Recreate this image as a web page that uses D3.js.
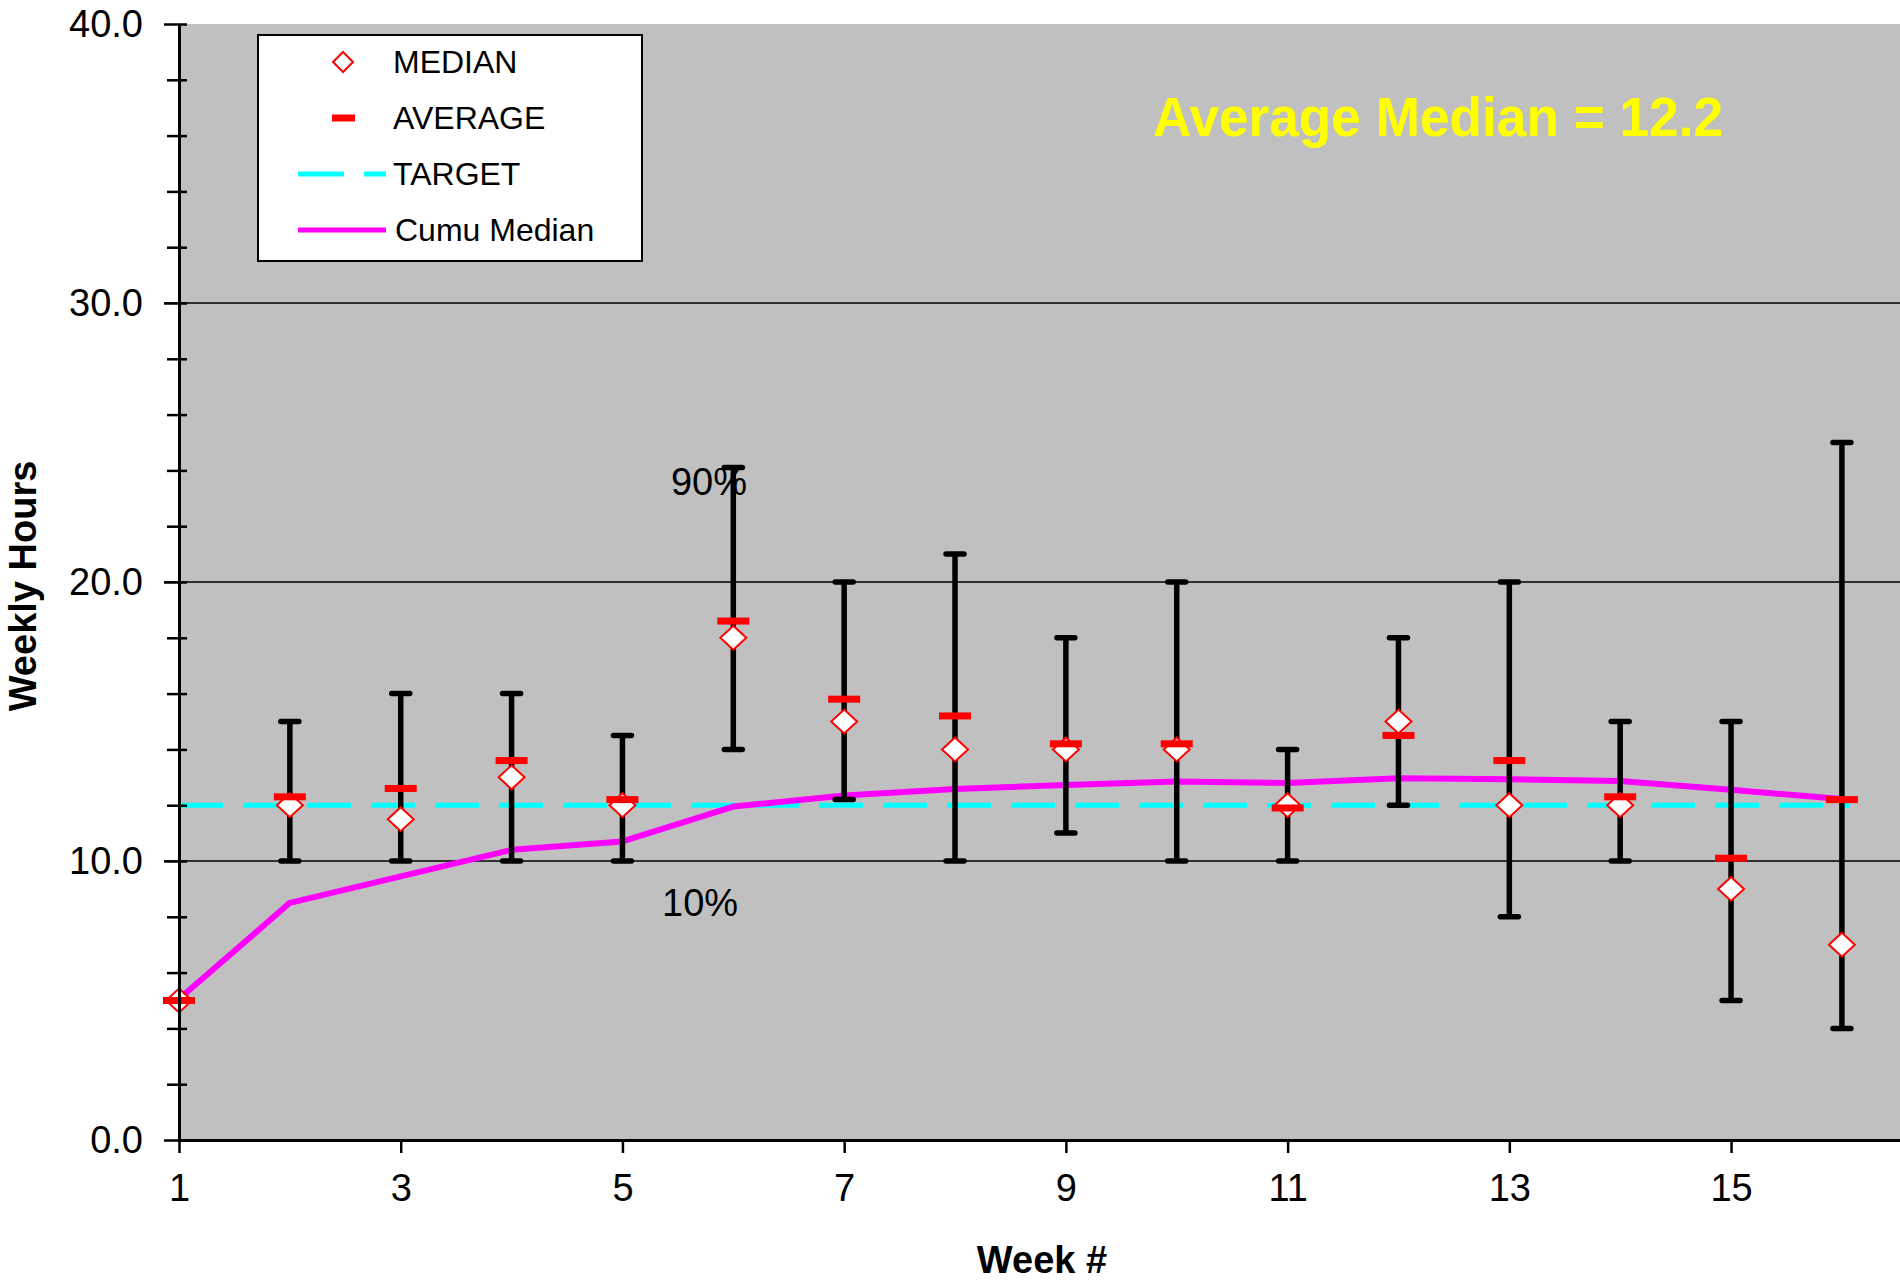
<!DOCTYPE html>
<html>
<head>
<meta charset="utf-8">
<script src="https://cdn.jsdelivr.net/npm/d3@7/dist/d3.min.js"></script>
<style>
  body { margin: 0; background: #fff; }
  svg { display: block; font-family: 'Liberation Sans', Arial, sans-serif; }
</style>
</head>
<body>
<div id="chart"></div>
<script>
// values
const weeks = [1, 2, 3, 4, 5, 6, 7, 8, 9, 10, 11, 12, 13, 14, 15, 16];
const median = [5, 12, 11.5, 13, 12, 18, 15, 14, 14, 14, 12, 15, 12, 12, 9, 7];
const average = [5, 12.3, 12.6, 13.6, 12.2, 18.6, 15.8, 15.2, 14.2, 14.2, 11.9, 14.5, 13.6, 12.3, 10.1, 12.2];
const p90 = [null, 15, 16, 16, 14.5, 24.1, 20, 21, 18, 20, 14, 18, 20, 15, 15, 25];
const p10 = [null, 10, 10, 10, 10, 14, 12.2, 10, 11, 10, 10, 12, 8, 10, 5, 4];
const cumuMedian = [5.05, 8.5, 9.45, 10.4, 10.7, 11.95, 12.35, 12.58, 12.72, 12.85, 12.8, 12.97, 12.93, 12.87, 12.55, 12.22];
const target = 12;
const avgMedianLabel = 'Average Median = 12.2';
const xTicks = [1, 3, 5, 7, 9, 11, 13, 15];
const yTicks = [0, 2, 4, 6, 8, 10, 12, 14, 16, 18, 20, 22, 24, 26, 28, 30, 32, 34, 36, 38, 40];
const legendItems = ['MEDIAN', 'AVERAGE', 'TARGET', 'Cumu Median'];

const width = 1900, height = 1282;
const plotLeft = 179, plotTop = 24, plotBottom = 1140;

const rows = weeks.map((w, i) => ({
  week: w, med: median[i], avg: average[i], hi: p90[i], lo: p10[i], cumu: cumuMedian[i],
}));

const svg = d3.select('#chart').append('svg')
  .attr('width', width)
  .attr('height', height);

const x = d3.scaleLinear().domain([1, 16.524]).range([plotLeft, width]);
const y = d3.scaleLinear().domain([0, 40]).range([plotBottom, plotTop]);

// plot background
svg.append('rect')
  .attr('x', plotLeft).attr('y', plotTop)
  .attr('width', width - plotLeft).attr('height', plotBottom - plotTop)
  .attr('fill', '#c0c0c0');

// gridlines
svg.append('g')
  .selectAll('line')
  .data([10, 20, 30])
  .join('line')
  .attr('x1', plotLeft - 15).attr('x2', width)
  .attr('y1', d => y(d)).attr('y2', d => y(d))
  .attr('stroke', '#000').attr('stroke-width', 1.6);

// target
svg.append('line')
  .attr('x1', x(1)).attr('x2', x(16) + 8)
  .attr('y1', y(target)).attr('y2', y(target))
  .attr('stroke', '#00ffff').attr('stroke-width', 5)
  .attr('stroke-dasharray', '44,20');

// cumulative median
const line = d3.line().x(d => x(d.week)).y(d => y(d.cumu));
svg.append('path')
  .datum(rows)
  .attr('d', line)
  .attr('fill', 'none')
  .attr('stroke', '#ff00ff')
  .attr('stroke-width', 6)
  .attr('stroke-linejoin', 'round');

// 10% - 90% whiskers
const bars = rows.filter(d => d.hi != null);
const wg = svg.append('g').attr('stroke', '#000').attr('stroke-width', 5.5);
wg.selectAll('line.v')
  .data(bars)
  .join('line')
  .attr('class', 'v')
  .attr('x1', d => x(d.week)).attr('x2', d => x(d.week))
  .attr('y1', d => y(d.hi)).attr('y2', d => y(d.lo));
wg.selectAll('line.cap')
  .data(bars.flatMap(d => [{week: d.week, v: d.hi}, {week: d.week, v: d.lo}]))
  .join('line')
  .attr('class', 'cap')
  .attr('x1', d => x(d.week) - 9).attr('x2', d => x(d.week) + 9)
  .attr('y1', d => y(d.v)).attr('y2', d => y(d.v))
  .attr('stroke-linecap', 'round');

// median diamonds
const diamond = (w, h) => `M0,${-h}L${w},0L0,${h}L${-w},0Z`;
svg.append('g')
  .selectAll('path')
  .data(rows)
  .join('path')
  .attr('transform', d => `translate(${x(d.week)},${y(d.med)})`)
  .attr('d', diamond(13, 12))
  .attr('fill', '#fff')
  .attr('stroke', '#ff0000')
  .attr('stroke-width', 2);

// averages
svg.append('g')
  .selectAll('rect')
  .data(rows)
  .join('rect')
  .attr('x', d => x(d.week) - 16)
  .attr('y', d => y(d.avg) - 3.5)
  .attr('width', 32).attr('height', 7)
  .attr('fill', '#ff0000');

// y axis
const yAxis = d3.axisLeft(y)
  .tickValues(yTicks)
  .tickSizeInner(12)
  .tickSizeOuter(0)
  .tickFormat(d => (d % 10 === 0 ? d3.format('.1f')(d) : ''));
const gy = svg.append('g').attr('transform', `translate(${plotLeft},0)`).call(yAxis);
gy.select('.domain').attr('stroke-width', 3);
gy.selectAll('.tick line')
  .attr('x1', 8)
  .attr('x2', d => (d % 10 === 0 ? -15 : -12))
  .attr('stroke-width', 2.5);
gy.selectAll('.tick text')
  .attr('x', -36)
  .attr('font-size', 38)
  .attr('font-family', "'Liberation Sans', Arial, sans-serif")
  .attr('fill', '#000');

// x axis
const xAxis = d3.axisBottom(x)
  .tickValues(xTicks)
  .tickSize(13)
  .tickSizeOuter(0)
  .tickPadding(21)
  .tickFormat(d3.format('d'));
const gx = svg.append('g').attr('transform', `translate(0,${plotBottom})`).call(xAxis);
gx.select('.domain').attr('stroke-width', 3);
gx.selectAll('.tick line').attr('stroke-width', 2.5);
gx.selectAll('.tick text')
  .attr('font-size', 38)
  .attr('font-family', "'Liberation Sans', Arial, sans-serif")
  .attr('fill', '#000');

// axis titles
svg.append('text')
  .attr('x', 1042).attr('y', 1273)
  .attr('text-anchor', 'middle')
  .attr('font-size', 38).attr('font-weight', 'bold')
  .text('Week #');
svg.append('text')
  .attr('transform', 'translate(36,586) rotate(-90)')
  .attr('text-anchor', 'middle')
  .attr('font-size', 38).attr('font-weight', 'bold')
  .text('Weekly Hours');

// percentile notes
svg.append('text')
  .attr('x', x(5.78)).attr('y', y(23.12))
  .attr('text-anchor', 'middle').attr('font-size', 38)
  .text('90%');
svg.append('text')
  .attr('x', x(5.7)).attr('y', y(8.03))
  .attr('text-anchor', 'middle').attr('font-size', 38)
  .text('10%');

// yellow note
svg.append('text')
  .attr('x', 1153).attr('y', 136)
  .attr('font-size', 55).attr('font-weight', 'bold')
  .attr('fill', '#ffff00')
  .attr('textLength', 570)
  .attr('lengthAdjust', 'spacingAndGlyphs')
  .text(avgMedianLabel);

// legend
const lg = svg.append('g');
lg.append('rect')
  .attr('x', 258).attr('y', 35)
  .attr('width', 384).attr('height', 226)
  .attr('fill', '#fff').attr('stroke', '#000').attr('stroke-width', 2);
const rowY = i => 62 + i * 56;
lg.selectAll('text')
  .data(legendItems)
  .join('text')
  .attr('x', (d, i) => (i === 3 ? 395 : 393))
  .attr('y', (d, i) => rowY(i) + 11)
  .attr('font-size', 32)
  .text(d => d);
lg.append('path')
  .attr('transform', `translate(343,${rowY(0)})`)
  .attr('d', diamond(10, 10))
  .attr('fill', '#fff').attr('stroke', '#ff0000').attr('stroke-width', 2);
lg.append('rect')
  .attr('x', 332).attr('y', rowY(1) - 3.5)
  .attr('width', 23).attr('height', 7)
  .attr('fill', '#ff0000');
lg.append('line')
  .attr('x1', 298).attr('x2', 386)
  .attr('y1', rowY(2)).attr('y2', rowY(2))
  .attr('stroke', '#00ffff').attr('stroke-width', 5)
  .attr('stroke-dasharray', '46,20');
lg.append('line')
  .attr('x1', 298).attr('x2', 386)
  .attr('y1', rowY(3)).attr('y2', rowY(3))
  .attr('stroke', '#ff00ff').attr('stroke-width', 5);
</script>
</body>
</html>
